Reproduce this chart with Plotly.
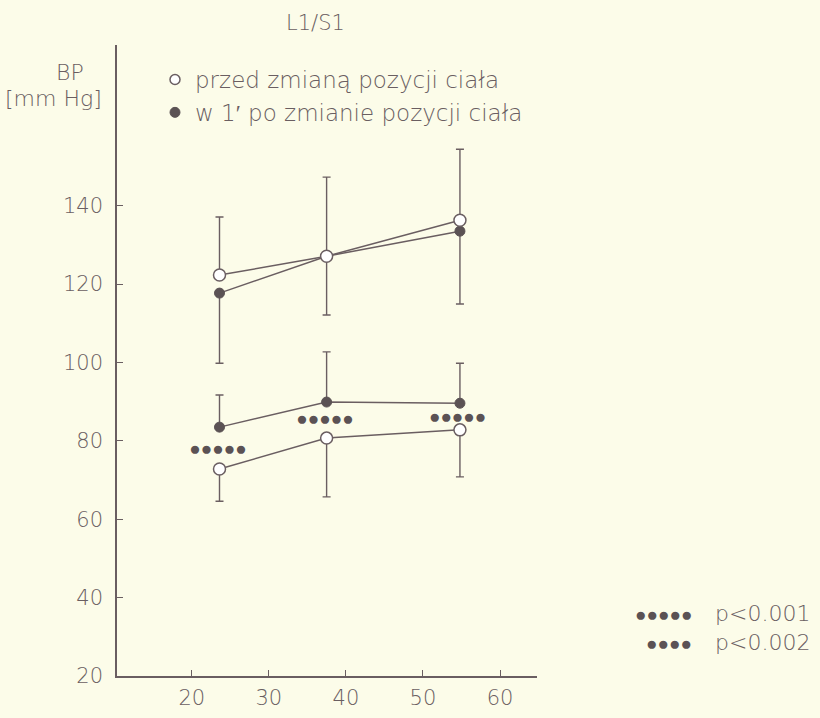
import plotly.graph_objects as go

# ---- data ----
age = [23.6, 37.5, 54.8]

sys_before = [122.3, 127.1, 136.3]
sys_before_sd = [14.8, 20.2, 18.1]
sys_after = [117.7, 127.1, 133.5]
sys_after_sd = [17.9, 15.0, 18.6]

dia_before = [72.8, 80.7, 82.8]
dia_before_sd = [8.2, 15.0, 12.0]
dia_after = [83.5, 89.9, 89.6]
dia_after_sd = [8.2, 12.8, 10.2]

sig_x = [23.4, 37.3, 54.5]
sig_y = [77.6, 85.3, 85.8]
sig_marks = ["●●●●●", "●●●●●", "●●●●●"]

x_ticks = [20, 30, 40, 50, 60]
y_ticks = [20, 40, 60, 80, 100, 120, 140]

title_text = "L1/S1"
y_label = ["BP", "[mm Hg]"]
legend_before = "przed zmianą pozycji ciała"
legend_after = "w 1′ po zmianie pozycji ciała"
p_dots = ["●●●●●", "●●●●"]
p_labels = ["p<0.001", "p<0.002"]

# ---- style ----
INK = "#6a5e61"
DARK = "#5b5254"
BG = "#fcfce9"
FONT = "DejaVu Sans"

fig = go.Figure()

def err(arr, up):
    zeros = [0] * len(arr)
    return dict(type="data", symmetric=False,
                array=arr if up else zeros,
                arrayminus=zeros if up else arr,
                color=INK, thickness=1.4, width=4)

# filled (after) series
for ys, sd, up in [(sys_after, sys_after_sd, False), (dia_after, dia_after_sd, True)]:
    fig.add_trace(go.Scatter(
        x=age, y=ys, mode="lines+markers", showlegend=False,
        line=dict(color=INK, width=1.5),
        marker=dict(symbol="circle", size=10, color=DARK, line=dict(color=DARK, width=1)),
        error_y=err(sd, up)))

# open (before) series
for ys, sd, up in [(sys_before, sys_before_sd, True), (dia_before, dia_before_sd, False)]:
    fig.add_trace(go.Scatter(
        x=age, y=ys, mode="lines+markers", showlegend=False,
        line=dict(color=INK, width=1.5),
        marker=dict(symbol="circle", size=12, color="white", line=dict(color=INK, width=1.5)),
        error_y=err(sd, up)))

# significance marks
fig.add_trace(go.Scatter(
    x=sig_x, y=sig_y, mode="text", text=sig_marks, showlegend=False,
    textfont=dict(family="DejaVu Sans", size=19, color=DARK)))

# legend entries
fig.add_trace(go.Scatter(x=[None], y=[None], mode="markers", name=legend_before,
                         marker=dict(symbol="circle", size=10, color="white",
                                     line=dict(color=INK, width=1.5))))
fig.add_trace(go.Scatter(x=[None], y=[None], mode="markers", name=legend_after,
                         marker=dict(symbol="circle", size=10, color=DARK,
                                     line=dict(color=DARK, width=1))))

L, R, T, B = 117, 283, 45, 42
W, H = 820, 718
pw, ph = W - L - R, H - T - B

def px2paper_x(px):
    return (px - L) / pw

def px2paper_y(py):
    return (H - B - py) / ph

TXT = dict(color=INK, family=FONT, weight=300)

annotations = [
    dict(text=title_text, x=px2paper_x(315), y=px2paper_y(23), xref="paper", yref="paper",
         xanchor="center", yanchor="middle", showarrow=False, font=dict(size=21, **TXT)),
    dict(text=y_label[0], x=px2paper_x(86), y=px2paper_y(72), xref="paper", yref="paper",
         xanchor="right", yanchor="middle", showarrow=False, font=dict(size=22, **TXT)),
    dict(text=y_label[1], x=px2paper_x(104), y=px2paper_y(98), xref="paper", yref="paper",
         xanchor="right", yanchor="middle", showarrow=False, font=dict(size=22, **TXT)),
    dict(text="<br>".join(p_labels), x=px2paper_x(713), y=px2paper_y(628), xref="paper",
         yref="paper", xanchor="left", yanchor="middle", align="left", showarrow=False,
         font=dict(size=22, **TXT)),
]
for i, dots in enumerate(p_dots):
    annotations.append(dict(text=dots, x=px2paper_x(694), y=px2paper_y(614 + 29 * i),
                            xref="paper", yref="paper", xanchor="right", yanchor="middle",
                            showarrow=False, font=dict(size=19, color=DARK, family="DejaVu Sans")))

fig.update_layout(
    width=W, height=H,
    margin=dict(l=L, r=R, t=T, b=B, pad=0),
    paper_bgcolor=BG, plot_bgcolor=BG,
    font=dict(size=21, **TXT),
    showlegend=True,
    legend=dict(x=px2paper_x(155), y=px2paper_y(58), xanchor="left", yanchor="top",
                bgcolor="rgba(0,0,0,0)", font=dict(size=23, **TXT),
                itemwidth=30, tracegroupgap=0),
    annotations=annotations,
    xaxis=dict(range=[10.3, 64.8], tickvals=x_ticks, ticks="inside", ticklen=6,
               tickcolor=INK, tickwidth=1.3, showline=True, linecolor=INK, linewidth=1.5,
               showgrid=False, zeroline=False, ticklabelstandoff=2, automargin=False),
    yaxis=dict(range=[20, 181], tickvals=y_ticks, ticks="inside", ticklen=6,
               tickcolor=INK, tickwidth=1.3, showline=True, linecolor=INK, linewidth=1.5,
               showgrid=False, zeroline=False, ticklabelstandoff=8, automargin=False),
)

fig.write_html("out.html", config={"displayModeBar": False},
               post_script="document.body.style.margin='0';document.body.style.background='%s';" % BG)
